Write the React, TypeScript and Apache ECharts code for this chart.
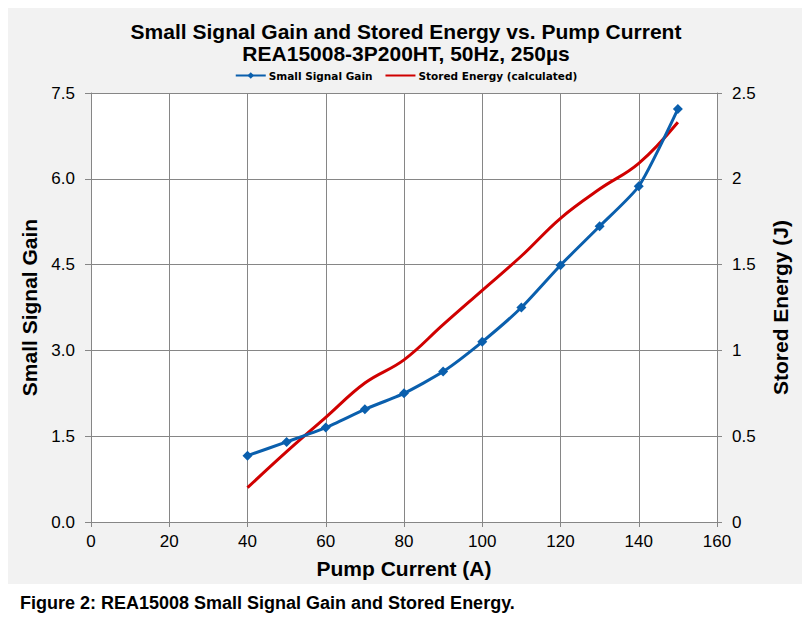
import React, { useEffect, useRef } from "react";
import * as echarts from "echarts";

const pumpCurrent = [40, 50, 60, 70, 80, 90, 100, 110, 120, 130, 140, 150];
const smallSignalGain = [1.16, 1.4, 1.65, 1.97, 2.25, 2.63, 3.15, 3.75, 4.49, 5.17, 5.87, 7.22];
const storedEnergy = [0.2, 0.41, 0.61, 0.81, 0.945, 1.15, 1.35, 1.55, 1.77, 1.94, 2.09, 2.33];

const titleLines = ["Small Signal Gain and Stored Energy vs. Pump Current", "REA15008-3P200HT, 50Hz, 250µs"];
const seriesNames = ["Small Signal Gain", "Stored Energy (calculated)"];
const xAxisName = "Pump Current (A)";
const yLeftName = "Small Signal Gain";
const yRightName = "Stored Energy (J)";
const caption = "Figure 2: REA15008 Small Signal Gain and Stored Energy.";

const FONT = "'Liberation Sans', Arial, sans-serif";
const AXIS_GRAY = "#868686";

export default function App() {
  const ref = useRef<HTMLDivElement>(null);

  useEffect(() => {
    document.body.style.margin = "0";
    if (!ref.current) return;
    const chart = echarts.init(ref.current, undefined, { renderer: "svg" });
    const gainData = pumpCurrent.map((x, i) => [x, smallSignalGain[i]]);
    const energyData = pumpCurrent.map((x, i) => [x, storedEnergy[i]]);

    chart.setOption({
      animation: false,
      backgroundColor: "#ffffff",
      textStyle: { fontFamily: FONT },
      graphic: {
        elements: [
          {
            type: "rect",
            z: -100,
            silent: true,
            shape: { x: 8, y: 8, width: 794, height: 576 },
            style: { fill: "#f2f2f2" },
          },
          {
            type: "text",
            left: 20,
            top: 594,
            style: {
              text: caption,
              fill: "#000",
              font: `bold 18px ${FONT}`,
            },
          },
        ],
      },
      title: {
        text: titleLines.join("\n"),
        left: "center",
        top: 15,
        textStyle: {
          fontFamily: FONT,
          fontSize: 21,
          fontWeight: "bold",
          color: "#000",
          lineHeight: 22,
        },
      },
      legend: {
        top: 65,
        left: "center",
        itemWidth: 30,
        itemHeight: 8,
        itemGap: 12,
        data: [
          { name: seriesNames[0] },
          { name: seriesNames[1], itemStyle: { opacity: 0 } },
        ],
        textStyle: {
          fontFamily: "'DejaVu Sans', Verdana, sans-serif",
          fontSize: 10.5,
          fontWeight: "bold",
          color: "#000",
          padding: [0, 0, 0, -2],
        },
      },
      grid: {
        left: 91,
        right: 95,
        top: 93,
        bottom: 96,
        show: true,
        backgroundColor: "#ffffff",
        borderWidth: 0,
      },
      xAxis: {
        type: "value",
        min: 0,
        max: 160,
        interval: 20,
        name: xAxisName,
        nameLocation: "middle",
        nameGap: 36,
        nameTextStyle: { fontFamily: FONT, fontSize: 21, fontWeight: "bold", color: "#000" },
        axisLine: { show: true, lineStyle: { color: AXIS_GRAY, width: 1 } },
        axisTick: { show: true, inside: false, length: 5, lineStyle: { color: AXIS_GRAY } },
        axisLabel: { fontFamily: FONT, fontSize: 17, color: "#000", margin: 11 },
        splitLine: { show: true, lineStyle: { color: AXIS_GRAY, width: 1 } },
      },
      yAxis: [
        {
          type: "value",
          min: 0,
          max: 7.5,
          interval: 1.5,
          position: "left",
          name: yLeftName,
          nameLocation: "middle",
          nameRotate: 90,
          nameGap: 46,
          nameTextStyle: { fontFamily: FONT, fontSize: 21, fontWeight: "bold", color: "#000" },
          axisLine: { show: true, lineStyle: { color: AXIS_GRAY, width: 1 } },
          axisTick: { show: true, inside: false, length: 6, lineStyle: { color: AXIS_GRAY } },
          axisLabel: {
            fontFamily: FONT,
            fontSize: 17,
            color: "#000",
            margin: 16,
            formatter: (v: number) => v.toFixed(1),
          },
          splitLine: { show: true, lineStyle: { color: AXIS_GRAY, width: 1 } },
        },
        {
          type: "value",
          min: 0,
          max: 2.5,
          interval: 0.5,
          position: "right",
          name: yRightName,
          nameLocation: "middle",
          nameRotate: 90,
          nameGap: 53,
          nameTextStyle: { fontFamily: FONT, fontSize: 21, fontWeight: "bold", color: "#000" },
          axisLine: { show: true, lineStyle: { color: AXIS_GRAY, width: 1 } },
          axisTick: { show: true, inside: false, length: 5, lineStyle: { color: AXIS_GRAY } },
          axisLabel: { fontFamily: FONT, fontSize: 17, color: "#000", margin: 15 },
          splitLine: { show: false },
        },
      ],
      series: [
        {
          name: seriesNames[0],
          type: "line",
          yAxisIndex: 0,
          data: gainData,
          smooth: 0.2,
          symbol: "diamond",
          symbolSize: 10,
          itemStyle: { color: "#0a5fad" },
          lineStyle: { color: "#0a5fad", width: 3 },
          z: 3,
        },
        {
          name: seriesNames[1],
          type: "line",
          yAxisIndex: 1,
          data: energyData,
          smooth: 0.4,
          showSymbol: false,
          symbol: "none",
          itemStyle: { color: "#d00000" },
          lineStyle: { color: "#d00000", width: 3 },
          z: 2,
        },
      ],
    });

    return () => chart.dispose();
  }, []);

  return <div ref={ref} style={{ width: 812, height: 618 }} />;
}
